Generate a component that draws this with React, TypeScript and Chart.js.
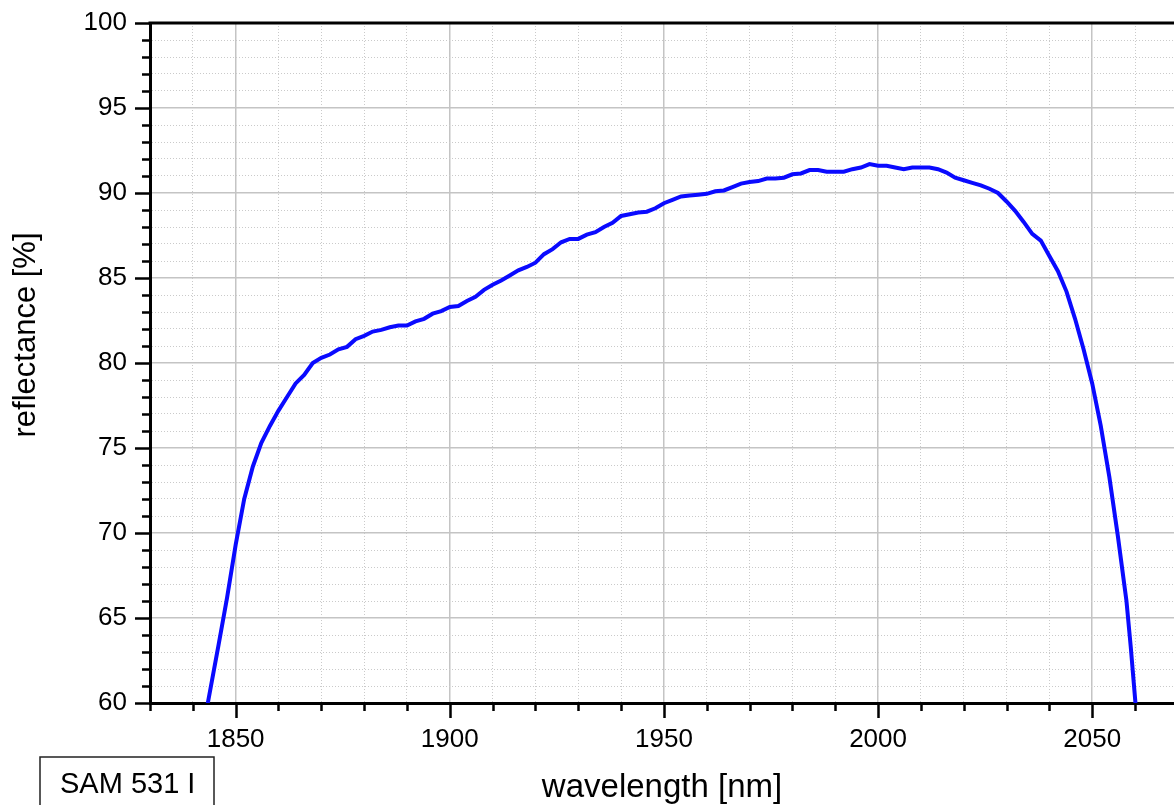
import React, { useEffect, useRef } from 'react';
import { Chart, registerables } from 'chart.js';

Chart.register(...registerables);

// ---- data ----
const wavelengths = [
  1842.5, 1843.5, 1846, 1848, 1850, 1852, 1854, 1856, 1858, 1860,
  1862, 1864, 1866, 1868, 1870, 1872, 1874, 1876, 1878, 1880,
  1882, 1884, 1886, 1888, 1890, 1892, 1894, 1896, 1898, 1900,
  1902, 1904, 1906, 1908, 1910, 1912, 1914, 1916, 1918, 1920,
  1922, 1924, 1926, 1928, 1930, 1932, 1934, 1936, 1938, 1940,
  1942, 1944, 1946, 1948, 1950, 1952, 1954, 1956, 1958, 1960,
  1962, 1964, 1966, 1968, 1970, 1972, 1974, 1976, 1978, 1980,
  1982, 1984, 1986, 1988, 1990, 1992, 1994, 1996, 1998, 2000,
  2002, 2004, 2006, 2008, 2010, 2012, 2014, 2016, 2018, 2020,
  2022, 2024, 2026, 2028, 2030, 2032, 2034, 2036, 2038, 2040,
  2042, 2044, 2046, 2048, 2050, 2052, 2054, 2056, 2058, 2059,
  2060.1, 2060.6,
];

const reflectance = [
  58.6, 60.0, 63.4, 66.2, 69.3, 72.0, 73.9, 75.3, 76.3, 77.2,
  78.0, 78.8, 79.3, 80.0, 80.3, 80.5, 80.8, 80.95, 81.4, 81.6,
  81.85, 81.95, 82.1, 82.2, 82.2, 82.45, 82.6, 82.9, 83.05, 83.3,
  83.35, 83.65, 83.9, 84.3, 84.6, 84.85, 85.15, 85.45, 85.65, 85.9,
  86.4, 86.7, 87.1, 87.3, 87.3, 87.55, 87.7, 88.0, 88.25, 88.65,
  88.75, 88.85, 88.9, 89.1, 89.4, 89.6, 89.8, 89.85, 89.9, 89.95,
  90.1, 90.15, 90.35, 90.55, 90.65, 90.7, 90.85, 90.85, 90.9, 91.1,
  91.15, 91.35, 91.35, 91.25, 91.25, 91.25, 91.4, 91.5, 91.7, 91.6,
  91.6, 91.5, 91.4, 91.5, 91.5, 91.5, 91.4, 91.2, 90.9, 90.75,
  90.6, 90.45, 90.25, 90.0, 89.5, 88.95, 88.3, 87.6, 87.2, 86.3,
  85.4, 84.2, 82.6, 80.8, 78.8, 76.3, 73.3, 69.8, 66.0, 63.3,
  60.0, 58.0,
];

const xMin = 1830;
const xMax = 2069.1;
const xMinorStep = 10;
const xMajorStep = 50;
const yMin = 60;
const yMax = 100;
const yMinorStep = 1;
const yMajorStep = 5;

const xTitle = 'wavelength [nm]';
const yTitle = 'reflectance [%]';
const sampleLabel = 'SAM 531 I';

const FONT = 'Arial, "Liberation Sans", sans-serif';

const isMajor = (v: number, step: number) => Math.abs(v / step - Math.round(v / step)) < 1e-6;

const decorPlugin = {
  id: 'decor',
  afterDraw(chart: any) {
    const { ctx, chartArea, scales } = chart;
    const xs = scales.x;
    const ys = scales.y;
    ctx.save();
    // tick marks
    ctx.strokeStyle = '#000';
    ctx.lineWidth = 2.5;
    ctx.beginPath();
    xs.ticks.forEach((t: any) => {
      const px = Math.round(xs.getPixelForValue(t.value)) + 0.5;
      const len = isMajor(t.value, xMajorStep) ? 15 : 8;
      ctx.moveTo(px, chartArea.bottom);
      ctx.lineTo(px, chartArea.bottom + len);
    });
    ys.ticks.forEach((t: any) => {
      const py = Math.round(ys.getPixelForValue(t.value)) + 0.5;
      const len = isMajor(t.value, yMajorStep) ? 15 : 8;
      ctx.moveTo(chartArea.left, py);
      ctx.lineTo(chartArea.left - len, py);
    });
    ctx.stroke();
    // top frame line
    ctx.lineWidth = 3;
    ctx.beginPath();
    ctx.moveTo(chartArea.left - 1.5, chartArea.top);
    ctx.lineTo(chartArea.right, chartArea.top);
    ctx.stroke();

    // titles
    ctx.fillStyle = '#000';
    ctx.font = `33px ${FONT}`;
    ctx.textAlign = 'center';
    ctx.textBaseline = 'alphabetic';
    ctx.fillText(xTitle, (chartArea.left + chartArea.right) / 2, 797);

    ctx.save();
    ctx.translate(35, 335);
    ctx.rotate(-Math.PI / 2);
    ctx.font = `31px ${FONT}`;
    ctx.fillText(yTitle, 0, 0);
    ctx.restore();

    // sample label box
    ctx.lineWidth = 1.5;
    ctx.strokeStyle = '#222';
    ctx.strokeRect(40, 757, 174, 60);
    ctx.font = `29px ${FONT}`;
    ctx.textAlign = 'left';
    ctx.fillText(sampleLabel, 60, 793);
    ctx.restore();
  },
};

export default function App() {
  const ref = useRef<HTMLCanvasElement | null>(null);

  useEffect(() => {
    if (!ref.current) return;
    const points = wavelengths.map((w, i) => ({ x: w, y: reflectance[i] }));
    const chart = new Chart(ref.current, {
      type: 'line',
      data: {
        datasets: [
          {
            data: points,
            borderColor: '#0a0aff',
            borderWidth: 4,
            pointRadius: 0,
            tension: 0,
            fill: false,
            clip: 0,
          },
        ],
      },
      options: {
        responsive: false,
        animation: false,
        events: [],
        layout: { padding: { top: 23, left: 0, right: 0, bottom: 0 } },
        plugins: {
          legend: { display: false },
          tooltip: { enabled: false },
          title: { display: false },
        },
        scales: {
          x: {
            type: 'linear',
            min: xMin,
            max: xMax,
            afterFit: (s: any) => {
              s.height = 102;
              s.paddingLeft = 0;
              s.paddingRight = 0;
            },
            ticks: {
              stepSize: xMinorStep,
              includeBounds: false,
              autoSkip: false,
              maxRotation: 0,
              minRotation: 0,
              padding: 21,
              color: '#000',
              font: { family: FONT, size: 26 },
              callback: (v: any) => (isMajor(Number(v), xMajorStep) ? String(v) : ''),
            },
            grid: {
              drawTicks: false,
              color: (c: any) => (c.tick && isMajor(c.tick.value, xMajorStep) ? '#c4c4c4' : '#cacaca'),
              lineWidth: (c: any) => (c.tick && isMajor(c.tick.value, xMajorStep) ? 1.5 : 1),
            },
            border: {
              display: true,
              color: '#000',
              width: 3,
              dash: (c: any) => (c.tick && !isMajor(c.tick.value, xMajorStep) ? [1, 2] : []),
            },
          },
          y: {
            type: 'linear',
            min: yMin,
            max: yMax,
            afterFit: (s: any) => {
              s.width = 150;
              s.paddingTop = 0;
              s.paddingBottom = 0;
            },
            ticks: {
              stepSize: yMinorStep,
              includeBounds: false,
              autoSkip: false,
              padding: 23,
              color: '#000',
              font: { family: FONT, size: 26 },
              callback: (v: any) => (isMajor(Number(v), yMajorStep) ? String(v) : ''),
            },
            grid: {
              drawTicks: false,
              color: (c: any) => (c.tick && isMajor(c.tick.value, yMajorStep) ? '#c4c4c4' : '#cacaca'),
              lineWidth: (c: any) => (c.tick && isMajor(c.tick.value, yMajorStep) ? 1.5 : 1),
            },
            border: {
              display: true,
              color: '#000',
              width: 3,
              dash: (c: any) => (c.tick && !isMajor(c.tick.value, yMajorStep) ? [1, 2] : []),
            },
          },
        },
      },
      plugins: [decorPlugin],
    });
    return () => chart.destroy();
  }, []);

  return (
    <div style={{ position: 'fixed', left: 0, top: 0, width: 1174, height: 805, background: '#fff' }}>
      <canvas ref={ref} width={1174} height={805} style={{ display: 'block' }} />
    </div>
  );
}
